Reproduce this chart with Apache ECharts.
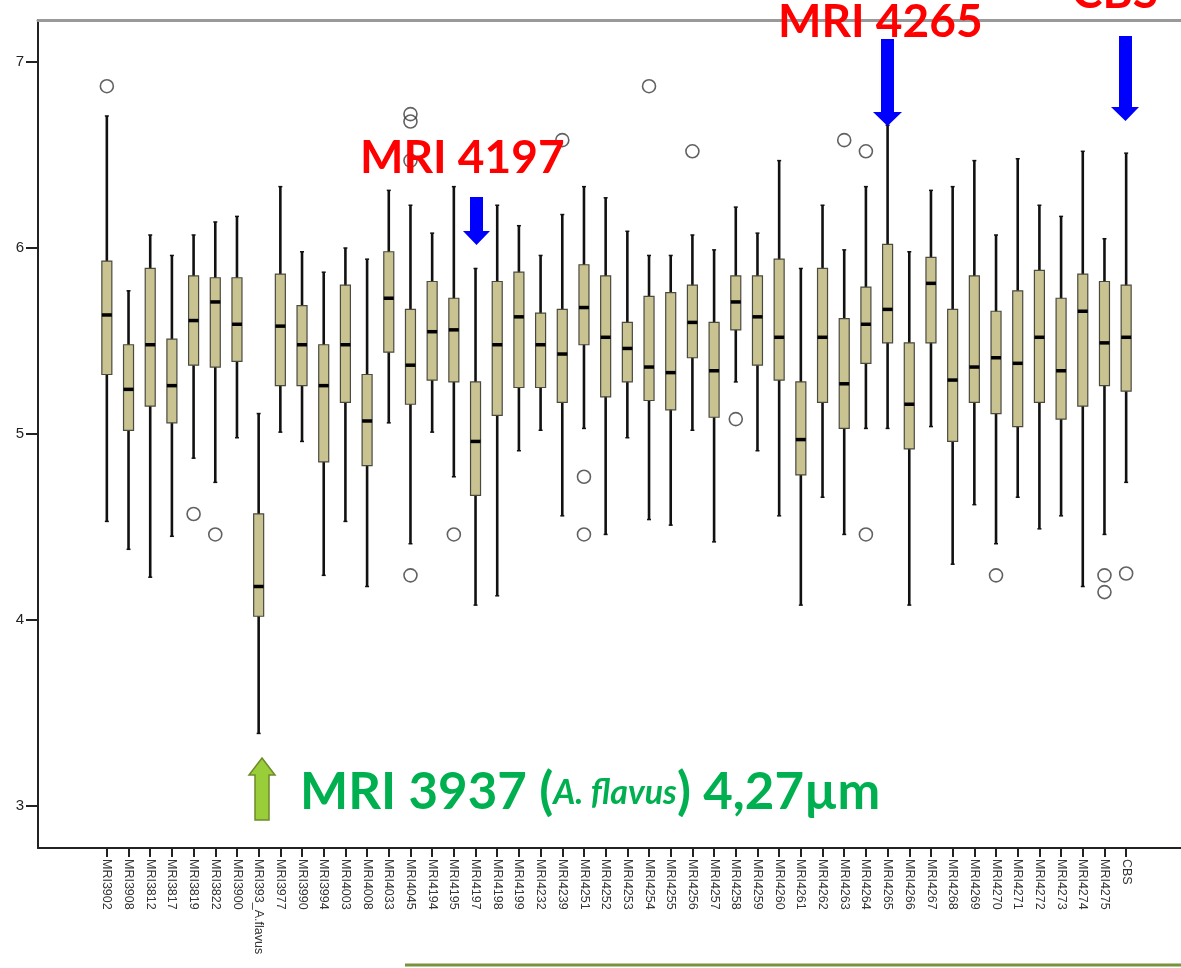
<!DOCTYPE html>
<html><head><meta charset="utf-8">
<script src="https://cdn.jsdelivr.net/npm/echarts@6/dist/echarts.min.js"></script>
<style>html,body{margin:0;padding:0;background:#fff}#c{width:1181px;height:968px}</style>
</head><body><div id="c"></div>
<script>
const categories = ['MRI3902','MRI3908','MRI3812','MRI3817','MRI3819','MRI3822','MRI3900','MRI393_A.flavus','MRI3977','MRI3990','MRI3994','MRI4003','MRI4008','MRI4033','MRI4045','MRI4194','MRI4195','MRI4197','MRI4198','MRI4199','MRI4232','MRI4239','MRI4251','MRI4252','MRI4253','MRI4254','MRI4255','MRI4256','MRI4257','MRI4258','MRI4259','MRI4260','MRI4261','MRI4262','MRI4263','MRI4264','MRI4265','MRI4266','MRI4267','MRI4268','MRI4269','MRI4270','MRI4271','MRI4272','MRI4273','MRI4274','MRI4275','CBS'];
const whiskerLow  = [4.53,4.38,4.23,4.45,4.87,4.74,4.98,3.39,5.01,4.96,4.24,4.53,4.18,5.06,4.41,5.01,4.77,4.08,4.13,4.91,5.02,4.56,5.03,4.46,4.98,4.54,4.51,5.02,4.42,5.28,4.91,4.56,4.08,4.66,4.46,5.03,5.03,4.08,5.04,4.30,4.62,4.41,4.66,4.49,4.56,4.18,4.46,4.74];
const q1          = [5.32,5.02,5.15,5.06,5.37,5.36,5.39,4.02,5.26,5.26,4.85,5.17,4.83,5.44,5.16,5.29,5.28,4.67,5.10,5.25,5.25,5.17,5.48,5.20,5.28,5.18,5.13,5.41,5.09,5.56,5.37,5.29,4.78,5.17,5.03,5.38,5.49,4.92,5.49,4.96,5.17,5.11,5.04,5.17,5.08,5.15,5.26,5.23];
const median      = [5.64,5.24,5.48,5.26,5.61,5.71,5.59,4.18,5.58,5.48,5.26,5.48,5.07,5.73,5.37,5.55,5.56,4.96,5.48,5.63,5.48,5.43,5.68,5.52,5.46,5.36,5.33,5.60,5.34,5.71,5.63,5.52,4.97,5.52,5.27,5.59,5.67,5.16,5.81,5.29,5.36,5.41,5.38,5.52,5.34,5.66,5.49,5.52];
const q3          = [5.93,5.48,5.89,5.51,5.85,5.84,5.84,4.57,5.86,5.69,5.48,5.80,5.32,5.98,5.67,5.82,5.73,5.28,5.82,5.87,5.65,5.67,5.91,5.85,5.60,5.74,5.76,5.80,5.60,5.85,5.85,5.94,5.28,5.89,5.62,5.79,6.02,5.49,5.95,5.67,5.85,5.66,5.77,5.88,5.73,5.86,5.82,5.80];
const whiskerHigh = [6.71,5.77,6.07,5.96,6.07,6.14,6.17,5.11,6.33,5.98,5.87,6.00,5.94,6.31,6.23,6.08,6.33,5.89,6.23,6.12,5.96,6.18,6.33,6.27,6.09,5.96,5.96,6.07,5.99,6.22,6.08,6.47,5.89,6.23,5.99,6.33,6.66,5.98,6.31,6.33,6.47,6.07,6.48,6.23,6.17,6.52,6.05,6.51];
const outlierCategory = [0,4,5,14,14,14,14,16,21,22,22,25,27,29,34,35,35,41,46,46,47];
const outlierValue    = [6.87,4.57,4.46,6.72,6.68,6.47,4.24,4.46,6.58,4.77,4.46,6.87,6.52,5.08,6.58,6.52,4.46,4.24,4.24,4.15,4.25];
const yTicks = [3,4,5,6,7];

const boxData = categories.map((c,i)=>[i, whiskerLow[i], q1[i], median[i], q3[i], whiskerHigh[i]]);
const outData = outlierCategory.map((c,i)=>[c, outlierValue[i]]);

const chart = echarts.init(document.getElementById('c'), null, {renderer:'canvas'});
const labelFont = "'Liberation Sans Narrow','Liberation Sans',Arial,sans-serif";
const annFont = "Lato,'Open Sans',sans-serif";

function renderBox(params, api){
  const i = api.value(0);
  const pLow = api.coord([i, api.value(1)]);
  const pQ1 = api.coord([i, api.value(2)]);
  const pMed = api.coord([i, api.value(3)]);
  const pQ3 = api.coord([i, api.value(4)]);
  const pHigh = api.coord([i, api.value(5)]);
  const x = pMed[0];
  const bw = 10, cw = 4;
  return {type:'group', children:[
    {type:'line', shape:{x1:x,y1:pHigh[1],x2:x,y2:pLow[1]}, style:{stroke:'#111',lineWidth:2.6}},
    {type:'line', shape:{x1:x-cw/2,y1:pHigh[1],x2:x+cw/2,y2:pHigh[1]}, style:{stroke:'#111',lineWidth:1.5}},
    {type:'line', shape:{x1:x-cw/2,y1:pLow[1],x2:x+cw/2,y2:pLow[1]}, style:{stroke:'#111',lineWidth:1.5}},
    {type:'rect', shape:{x:x-bw/2,y:pQ3[1],width:bw,height:pQ1[1]-pQ3[1]}, style:{fill:'#c9c391',stroke:'#4a4a40',lineWidth:1.2}},
    {type:'line', shape:{x1:x-bw/2,y1:pMed[1],x2:x+bw/2,y2:pMed[1]}, style:{stroke:'#000',lineWidth:3.5}}
  ]};
}

const option = {
  animation:false,
  backgroundColor:'#fff',
  grid:[
    {left:38, top:20, width:1200, height:828},
    {left:38, top:62, width:10, height:744},
    {left:96, top:20, width:1041, height:828}
  ],
  xAxis:[
    {gridIndex:0, type:'value', min:0, max:1, position:'bottom', axisLine:{show:true,onZero:false,lineStyle:{color:'#222',width:2}}, axisTick:{show:false}, axisLabel:{show:false}, splitLine:{show:false}},
    {gridIndex:0, type:'value', min:0, max:1, position:'top', axisLine:{show:true,onZero:false,lineStyle:{color:'#999',width:3}}, axisTick:{show:false}, axisLabel:{show:false}, splitLine:{show:false}},
    {gridIndex:1, type:'value', show:false},
    {gridIndex:2, type:'category', data:categories, boundaryGap:true,
     axisLine:{show:false}, axisTick:{show:true, alignWithLabel:true, length:9, lineStyle:{color:'#222',width:2}},
     axisLabel:{rotate:-90, interval:0, margin:11, fontSize:12.5, color:'#333', fontFamily:labelFont}, splitLine:{show:false}}
  ],
  yAxis:[
    {gridIndex:0, type:'value', min:0, max:1, axisLine:{show:true,onZero:false,lineStyle:{color:'#222',width:2}}, axisTick:{show:false}, axisLabel:{show:false}, splitLine:{show:false}},
    {gridIndex:1, type:'value', min:yTicks[0], max:yTicks[yTicks.length-1], interval:1, axisLine:{show:false},
     axisTick:{show:true,length:12,lineStyle:{color:'#222',width:2}},
     axisLabel:{margin:14, fontSize:15, color:'#222', fontFamily:"'Liberation Sans',Arial,sans-serif"}, splitLine:{show:false}},
    {gridIndex:2, type:'value', min:2.774, max:7.226, show:false}
  ],
  series:[
    {type:'custom', xAxisIndex:3, yAxisIndex:2, renderItem:renderBox, data:boxData, encode:{x:0,y:[1,2,3,4,5]}, z:3},
    {type:'scatter', xAxisIndex:3, yAxisIndex:2, data:outData, symbol:'circle', symbolSize:13,
     itemStyle:{color:'rgba(0,0,0,0)', borderColor:'#3a3a3a', borderWidth:1.6}, z:4}
  ],
  graphic:[
    {type:'polygon', z:100, shape:{points:[[881,39],[894,39],[894,112],[902,112],[887.5,126],[873,112],[881,112]]}, style:{fill:'#0000ff'}},
    {type:'polygon', z:100, shape:{points:[[1119,36],[1132,36],[1132,107],[1139,107],[1125.5,121],[1111,107],[1119,107]]}, style:{fill:'#0000ff'}},
    {type:'polygon', z:100, shape:{points:[[470,197],[483,197],[483,231],[490,231],[476.5,245],[463,231],[470,231]]}, style:{fill:'#0000ff'}},
    {type:'polygon', z:100, shape:{points:[[262,758],[275,775],[269,775],[269,820],[255,820],[255,775],[249,775]]}, style:{fill:'#9acd3a',stroke:'#6e8b2a',lineWidth:1.5}},
    {type:'text', z:100, style:{x:778, y:22, text:'MRI 4265', fill:'#ff0000', font:'bold 46px '+annFont, verticalAlign:'middle', align:'left'}},
    {type:'text', z:100, style:{x:1072, y:-7, text:'CBS', fill:'#ff0000', font:'bold 46px '+annFont, verticalAlign:'middle', align:'left'}},
    {type:'text', z:100, style:{x:360, y:158, text:'MRI 4197', fill:'#ff0000', font:'bold 46px '+annFont, verticalAlign:'middle', align:'left'}},
    {type:'text', z:100, style:{x:300, y:793, text:'{a|MRI 3937 (}{b|A. flavus}{a|) 4,27µm}', verticalAlign:'middle', align:'left',
      rich:{a:{fill:'#00b050', font:'bold 51px '+annFont}, b:{fill:'#00b050', font:'italic bold 34px '+annFont}}}},
    {type:'line', z:100, shape:{x1:405,y1:965,x2:1190,y2:965}, style:{stroke:'#77933c', lineWidth:3}}
  ]
};
chart.setOption(option);
</script></body></html>
